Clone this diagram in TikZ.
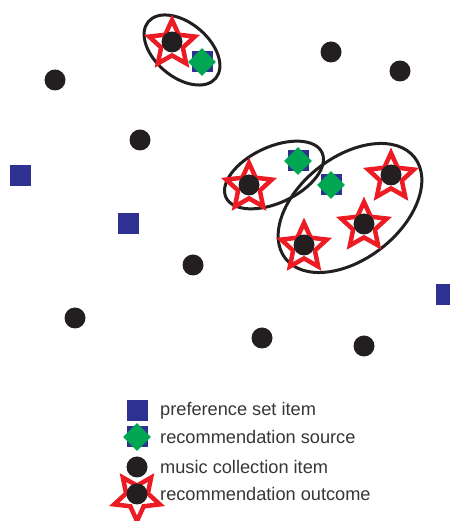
\documentclass[tikz,border=0pt]{standalone}
\usepackage{fontspec}
\setmainfont{Liberation Sans}
\usetikzlibrary{shapes.geometric}
\definecolor{dk}{HTML}{231F20}
\definecolor{bl}{HTML}{2E3192}
\definecolor{gr}{HTML}{00A651}
\definecolor{rd}{HTML}{ED1C24}
\tikzset{
  dot/.style={circle,fill=dk,inner sep=0,minimum size=21pt},
  pref/.style={rectangle,fill=bl,inner sep=0,minimum size=21pt},
  srcd/.style={diamond,fill=gr,inner sep=0,minimum size=28pt},
  outc/.style={star,star points=5,star point ratio=2.1,draw=rd,line width=4.5pt,inner sep=0,minimum size=48pt},
  clus/.style={draw=dk,line width=3pt},
  lab/.style={anchor=west,inner sep=0,font=\fontsize{18.2}{20}\selectfont,text=dk!90}
}
\begin{document}
\begin{tikzpicture}[x=1pt,y=1pt]
\useasboundingbox (0,0) rectangle (449,521);
% plain items
\node[dot] (m1) at (331,469) {};
\node[dot] (m2) at (400,450) {};
\node[dot] (m3) at (55,441) {};
\node[dot] (m4) at (140,381) {};
\node[dot] (m5) at (193,256) {};
\node[dot] (m6) at (75,203) {};
\node[dot] (m7) at (262,183) {};
\node[dot] (m8) at (364,175) {};
\node[pref] (p1) at (20,345) {};
\node[pref] (p2) at (128,297) {};
\node[pref] (p3) at (446,226) {};
% cluster 1
\coordinate (c1) at (182,471);
\draw[clus,rotate around={-40:(c1)}] (c1) ellipse (44 and 27);
\node[outc] (o1) at (172,477) {};
\node[dot] (o1d) at (172,479) {};
\node[pref] (s1p) at (202,459) {};
\node[srcd] (s1) at (s1p) {};
% cluster 2
\coordinate (c2) at (274,346);
\draw[clus,rotate around={25:(c2)}] (c2) ellipse (53 and 28);
\node[outc] (o2) at (249,334) {};
\node[dot] (o2d) at (249,336) {};
\node[pref] (s2p) at (298,360) {};
\node[srcd] (s2) at (s2p) {};
% cluster 3
\coordinate (c3) at (350,313);
\draw[clus,rotate around={38:(c3)}] (c3) ellipse (82 and 51);
\node[pref] (s3p) at (331,336) {};
\node[srcd] (s3) at (s3p) {};
\node[outc] (o3) at (391,344) {};
\node[dot] (o3d) at (391,346) {};
\node[outc] (o4) at (364,295) {};
\node[dot] (o4d) at (364,297) {};
\node[outc] (o5) at (304,274) {};
\node[dot] (o5d) at (304,276) {};
% legend
\node[pref] (lp) at (137,110) {};
\node[lab] (lpt) at (160,110) {preference set item};
\node[pref] (lsp) at (137,84) {};
\node[srcd] (ls) at (lsp) {};
\node[lab] (lst) at (160,84) {recommendation source};
\node[dot] (lm) at (137,54) {};
\node[lab] (lmt) at (160,54) {music collection item};
\node[outc,shape border rotate=180] (lo) at (137,24) {};
\node[dot] (lod) at (137,27) {};
\node[lab] (lot) at (160,27) {recommendation outcome};
\end{tikzpicture}
\end{document}
